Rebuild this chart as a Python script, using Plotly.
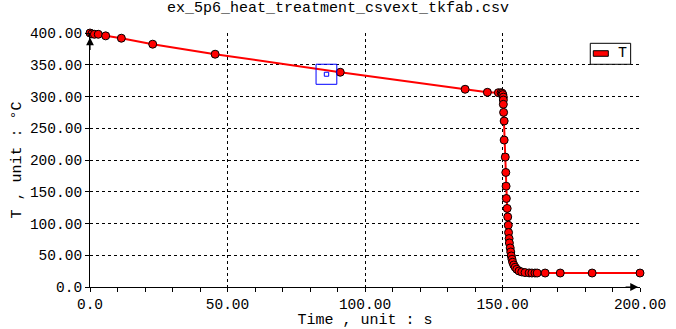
import plotly.graph_objects as go

# Data
time_s = [0, 0.7, 1.6, 3.0, 5.7, 11.4, 22.8, 45.5, 91.0, 136.4, 144.5, 148.5,
          149.5, 149.9, 150.1, 150.3, 150.3, 150.3, 150.4, 150.6, 150.6, 151.0,
          151.2, 151.3, 151.4, 151.7, 151.9, 152.1, 152.2, 152.4, 152.5, 152.8,
          153.0, 153.2, 153.45, 153.7, 154.1, 154.6, 155.2, 156.0, 157.0, 158.2,
          159.7, 160.7, 161.8, 162.6, 165.5, 171.0, 182.6, 200.0]
temp_c = [400, 398.6, 398, 398, 395.5, 391.8, 382.4, 366.6, 338.2, 311.4, 306.6, 306.0,
          306.0, 305.0, 303.0, 299.0, 294.5, 287.7, 275.0, 261.4, 231.4, 204.6,
          180.4, 158.8, 139.4, 123.7, 110.4, 97.3, 85.8, 76.3, 69.4, 61.5,
          55.2, 48.9, 43.7, 39.0, 34.7, 31.1, 27.9, 25.2, 23.7, 22.7,
          22.2, 22.0, 22.0, 22.0, 22.0, 22.0, 22.0, 22.0]

x_tickvals = [0, 50, 100, 150, 200]
x_ticktext = ["0.0", "50.00", "100.00", "150.00", "200.00"]
y_tickvals = [0, 50, 100, 150, 200, 250, 300, 350, 400]
y_ticktext = ["0.0", "50.00", "100.00", "150.00", "200.00", "250.00", "300.00", "350.00", "400.00"]

title_text = "ex_5p6_heat_treatment_csvext_tkfab.csv"
x_title = "Time , unit : s"
y_title = "T , unit : °C"
series_name = "T"

FONT = "Liberation Mono, Courier New, monospace"

fig = go.Figure()
fig.add_trace(go.Scatter(
    x=time_s, y=temp_c, mode="lines+markers", name=series_name,
    line=dict(color="#ff0000", width=2),
    marker=dict(color="#ff0000", size=8, line=dict(color="black", width=1)),
    cliponaxis=False, showlegend=False,
))

fig.update_layout(
    width=676, height=329,
    margin=dict(l=90, r=36, t=33, b=42, autoexpand=False),
    paper_bgcolor="white", plot_bgcolor="white",
    font=dict(family=FONT, size=14, color="black"),
    title=dict(text=title_text, x=0.5, xanchor="center", y=0.995, yanchor="top",
               font=dict(family=FONT, size=15, color="black")),
    showlegend=False,
)

fig.update_xaxes(
    range=[0, 200], tickvals=x_tickvals, ticktext=x_ticktext,
    showline=True, linecolor="black", linewidth=1, mirror=False,
    ticks="outside", ticklen=4, tickcolor="black",
    minor=dict(dtick=10, ticks="outside", ticklen=4, tickcolor="black", showgrid=False),
    showgrid=True, gridcolor="black", gridwidth=1, griddash="3px,3px",
    zeroline=False, automargin=False,
    title=dict(text=x_title, standoff=2, font=dict(family=FONT, size=15)),
    tickfont=dict(family=FONT, size=14.5),
)
fig.update_yaxes(
    range=[0, 400], tickvals=y_tickvals, ticktext=y_ticktext,
    showline=True, linecolor="black", linewidth=1, mirror=False,
    ticks="outside", ticklen=4, tickcolor="black",
    showgrid=True, gridcolor="black", gridwidth=1, griddash="3px,3px",
    zeroline=False, automargin=False,
    title=dict(text=y_title, standoff=4, font=dict(family=FONT, size=15)),
    tickfont=dict(family=FONT, size=14.5),
)

# Axis arrows
fig.add_annotation(x=0, y=393, xref="x", yref="y", ax=0, ay=14, text="",
                   showarrow=True, arrowhead=2, arrowsize=1.3, arrowwidth=1.2, arrowcolor="black")
fig.add_annotation(x=199.3, y=0, xref="x", yref="y", ax=-14, ay=0, text="",
                   showarrow=True, arrowhead=2, arrowsize=1.3, arrowwidth=1.2, arrowcolor="black")

# Legend drawn manually (box, red swatch, label)
fig.add_shape(type="rect", xref="paper", yref="paper", x0=0.9096, x1=0.983, y0=0.8768, y1=0.9594,
              line=dict(color="black", width=1), fillcolor="white")
fig.add_shape(type="rect", xref="paper", yref="paper", x0=0.9151, x1=0.9424, y0=0.9083, y1=0.9303,
              line=dict(color="black", width=1), fillcolor="#ff0000")
fig.add_annotation(x=0.9673, y=0.919, xref="paper", yref="paper", text=series_name, showarrow=False,
                   font=dict(family=FONT, size=15, color="black"), xanchor="center", yanchor="middle")

# Blue selection marker
fig.add_shape(type="rect", xref="x", yref="y", x0=82.2, x1=89.75, y0=319.2, y1=350.8,
              line=dict(color="#0000ff", width=1), fillcolor="rgba(0,0,0,0)")
fig.add_shape(type="rect", xref="x", yref="y", x0=85.2, x1=86.8, y0=331.9, y1=338.2,
              line=dict(color="#0000ff", width=1), fillcolor="rgba(0,0,0,0)")

fig.write_html("out.html")
